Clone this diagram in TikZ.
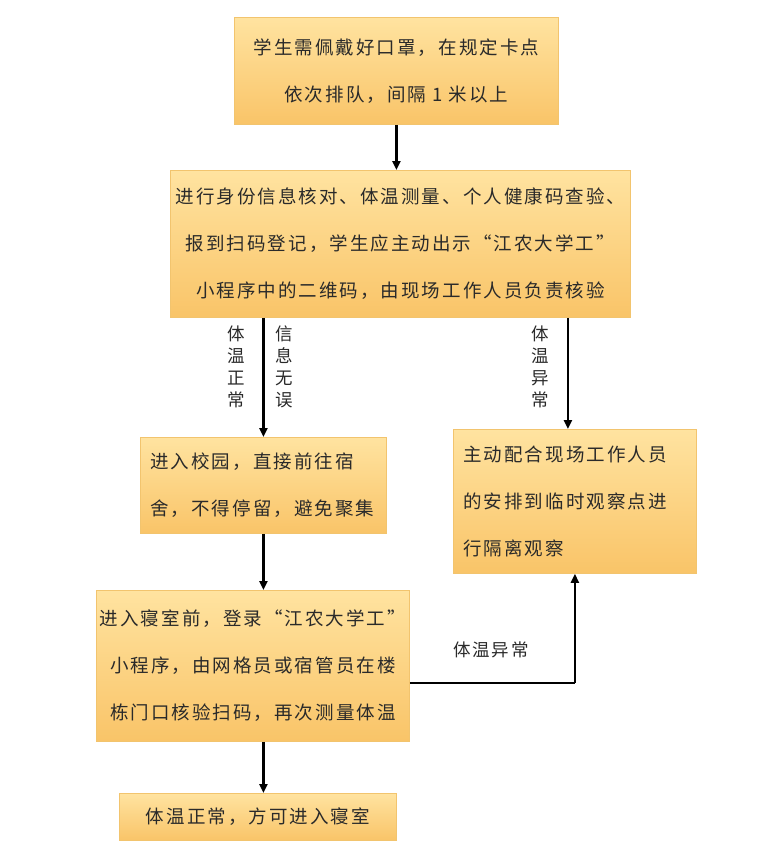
\documentclass[tikz,border=0pt]{standalone}
\usepackage{fontspec}
\usetikzlibrary{arrows.meta,calc}
\newfontfamily\cjk[LetterSpace=11]{Noto Sans CJK SC}
\newfontfamily\cjklab{Noto Sans CJK SC}
\definecolor{boxtop}{HTML}{FFE3A0}
\definecolor{boxbot}{HTML}{F9C468}
\definecolor{boxline}{HTML}{F2C46E}
\definecolor{txt}{HTML}{2A2A2A}
\tikzset{
  box/.style={draw=boxline, line width=0.8pt, top color=boxtop, bottom color=boxbot,
    anchor=north west, inner sep=0pt, text=txt,
    font=\cjk\fontsize{18.5}{47}\selectfont},
  vlab/.style={text=txt, font=\cjklab\fontsize{17.5}{22}\selectfont, align=center, anchor=north},
  hlab/.style={text=txt, font=\cjk\fontsize{17.5}{22}\selectfont},
  conn/.style={line width=2.2pt, -{Triangle[length=9pt,width=8pt]}},
  line/.style={line width=2.2pt}
}
\begin{document}
\begin{tikzpicture}[x=1pt,y=-1pt]
\fill[white] (0,0) rectangle (776,864);
\useasboundingbox (0,0) rectangle (776,864);

\node[box, minimum width=324pt, minimum height=107pt, align=center] (b1) at (234,17)
  {学生需佩戴好口罩，在规定卡点\\依次排队，间隔 1 米以上};
\node[box, minimum width=460pt, minimum height=147pt, align=center] (b2) at (170,170)
  {进行身份信息核对、体温测量、个人健康码查验、\\报到扫码登记，学生应主动出示“江农大学工”\\小程序中的二维码，由现场工作人员负责核验};
\node[box, minimum width=246pt, minimum height=96pt, align=left, text width=226pt, inner xsep=10pt] (b3) at (140,437)
  {进入校园，直接前往宿\\舍，不得停留，避免聚集};
\node[box, minimum width=243pt, minimum height=144pt, align=left, text width=223pt, inner xsep=10pt] (b4) at (453,429)
  {主动配合现场工作人员\\的安排到临时观察点进\\行隔离观察};
\node[box, minimum width=313pt, minimum height=151pt, align=center] (b5) at (96,590)
  {进入寝室前，登录“江农大学工”\\小程序，由网格员或宿管员在楼\\栋门口核验扫码，再次测量体温};
\node[box, minimum width=277pt, minimum height=47pt, align=center] (b6) at (119,793)
  {\raisebox{-3pt}{体温正常，方可进入寝室}};

\node[vlab] (l1) at (236,322) {体\\温\\正\\常};
\node[vlab] (l2) at (284,322) {信\\息\\无\\误};
\node[vlab] (l3) at (540,322) {体\\温\\异\\常};
\node[hlab] (l4) at (491,650) {体温异常};

\coordinate (c1) at ($(b2.south -| b4.north)+(-7,0)$);
\coordinate (c2) at ($(b4.north)+(-7,0)$);
\coordinate (c3) at ($(b5.east)+(0,17)$);
\coordinate (c4) at (c3 -| b4.south);

\draw[conn] (b1.south) -- (b2.north -| b1.south);
\draw[conn] (b2.south -| b3.north) -- (b3.north);
\draw[conn] (c1) -- (c2);
\draw[conn] (b3.south) -- (b5.north -| b3.south);
\draw[conn] (b5.south -| b3.south) -- (b6.north -| b3.south);
\draw[line] (c3) -- (c4);
\draw[conn] (c4) -- (b4.south);
\end{tikzpicture}
\end{document}
